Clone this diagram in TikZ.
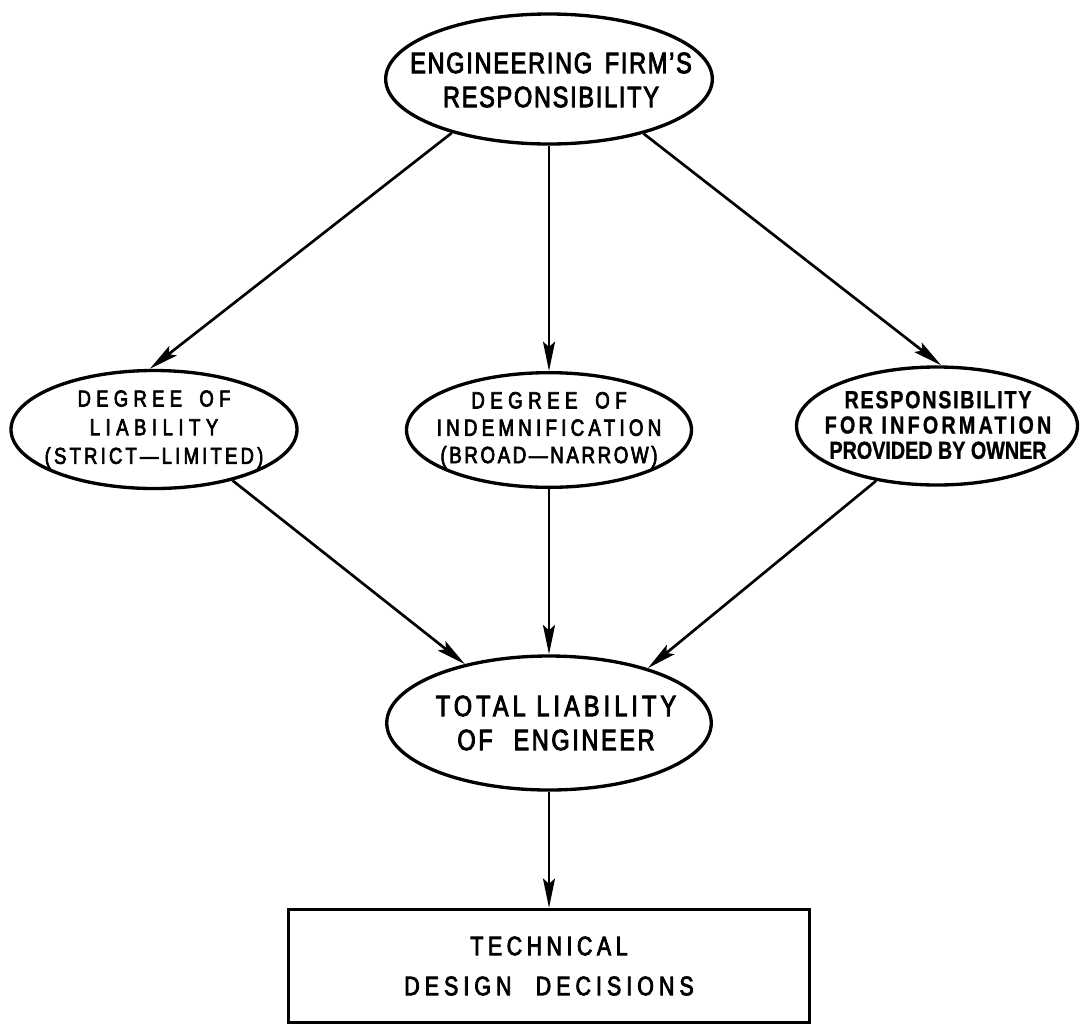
\documentclass[tikz,border=0pt]{standalone}
\usepackage{fontspec}
\setmainfont[FakeStretch=0.8,FakeBold=3]{Liberation Sans}
\newfontfamily\heavy[FakeStretch=0.8,FakeBold=1]{Liberation Sans Bold}
\usetikzlibrary{shapes.geometric,arrows.meta}
% letter-spaced line: #1 = spacing (percent of em), #2 = text
\newcommand{\spaced}[2]{{\addfontfeatures{LetterSpace=#1}#2}}
\begin{document}
\begin{tikzpicture}[x=0.75pt,y=-0.75pt,
  oval/.style={draw, ellipse, line width=2.5pt, inner sep=0pt},
  box/.style={draw, rectangle, line width=2.5pt, inner sep=0pt},
  lbl/.style={align=center, inner sep=0pt},
  conn/.style={line width=2pt, -{Stealth[length=22pt,width=9pt,inset=4pt]}}]
\useasboundingbox (0,0) rectangle (1081,1029);

% shapes
\node[oval, minimum width=245pt, minimum height=97.5pt] (resp) at (549,79) {};
\node[oval, minimum width=214.5pt, minimum height=88.5pt] (liab) at (154,429.5) {};
\node[oval, minimum width=213.75pt, minimum height=86pt] (indem) at (549,430) {};
\node[oval, minimum width=210.75pt, minimum height=88.5pt] (info) at (937,426) {};
\node[oval, minimum width=243.4pt, minimum height=100.5pt] (total) at (549,723) {};
\node[box, minimum width=390.75pt, minimum height=84.75pt] (design) at (549,966) {};

% texts
\node[lbl, font=\fontsize{22}{25.5}\selectfont] (respT) at (551,80)
  {\spaced{6}{ENGINEERING\hspace{0.15em} FIRM'S}\\ \spaced{6}{RESPONSIBILITY}};
\node[lbl, font=\fontsize{17.3}{21.5}\selectfont] (liabT) at (liab)
  {\spaced{23}{DEGREE\hspace{0.3em} OF}\\ \spaced{24}{LIABILITY}\\ \spaced{14}{(STRICT—LIMITED)}};
\node[lbl, font=\fontsize{17.6}{20.5}\selectfont] (indemT) at (indem)
  {\spaced{23}{DEGREE\hspace{0.3em} OF}\\ \spaced{18}{INDEMNIFICATION}\\ \spaced{11}{(BROAD—NARROW)}};
\node[lbl, font=\heavy\fontsize{18.5}{19}\selectfont] (infoT) at (938,425)
  {\spaced{7}{RESPONSIBILITY}\\ \spaced{13}{FOR INFORMATION}\\ \spaced{0}{PROVIDED BY OWNER}};
\node[lbl, font=\fontsize{22}{25.5}\selectfont] (totalT) at (556,723)
  {\spaced{14}{TOTAL LIABILITY}\\ \spaced{9}{OF\hspace{0.4em} ENGINEER}};
\node[lbl, font=\fontsize{20}{30}\selectfont] (designT) at (design)
  {\spaced{17}{TECHNICAL}\\ \spaced{19}{DESIGN\hspace{0.5em} DECISIONS}};

% connectors
\draw[conn] (resp.209) -- (liab.94);
\draw[conn] (resp.south) -- (indem.north);
\draw[conn] (resp.330) -- (info.86);
\draw[conn] (liab.327) -- (total.145);
\draw[conn] (indem.south) -- (total.north);
\draw[conn] (info.222) -- (total.29);
\draw[conn] (total.south) -- (design.north);
\end{tikzpicture}
\end{document}
